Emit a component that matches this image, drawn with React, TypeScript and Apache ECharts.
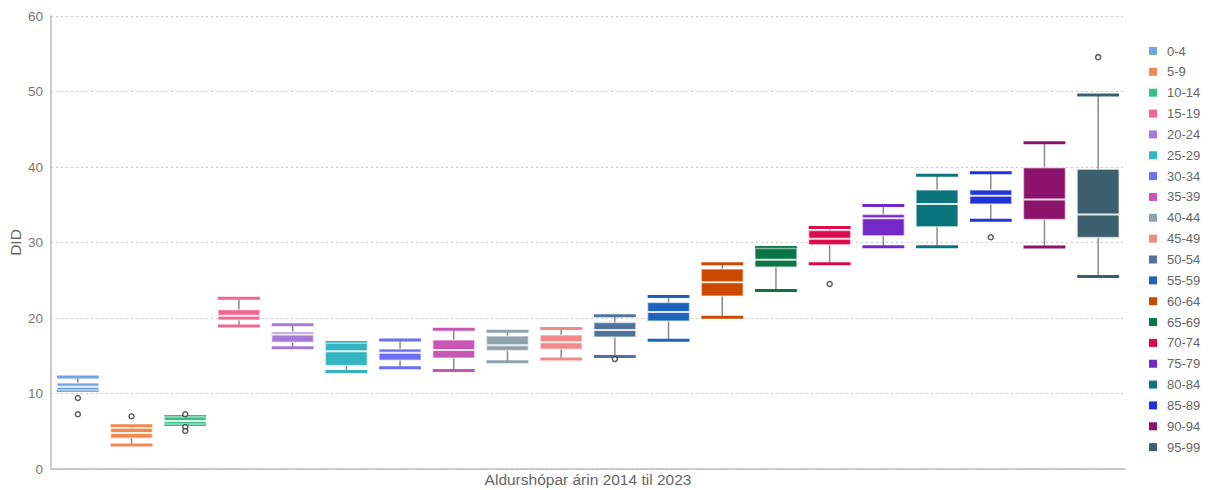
import React, { useEffect, useRef } from "react";
import * as echarts from "echarts";

const categories = ["0-4", "5-9", "10-14", "15-19", "20-24", "25-29", "30-34", "35-39", "40-44", "45-49", "50-54", "55-59", "60-64", "65-69", "70-74", "75-79", "80-84", "85-89", "90-94", "95-99"];
const colors = ["#6fa8e0", "#f08a55", "#3dbb88", "#ef6690", "#a67bd8", "#33b4c0", "#6c6ff2", "#c955b5", "#8ea2aa", "#f28a8a", "#50739e", "#1c63bb", "#cc4a00", "#0a7547", "#dc0a4c", "#7428c8", "#0b747c", "#2233d6", "#8c136b", "#3c5f6e"];
const mins = [10.4, 3.17, 5.9, 18.95, 16.06, 12.9, 13.4, 13.05, 14.2, 14.56, 14.9, 17.05, 20.1, 23.65, 27.2, 29.45, 29.45, 32.95, 29.4, 25.5];
const q1s = [10.45, 4.06, 5.95, 19.75, 16.8, 13.7, 14.4, 14.7, 15.7, 15.85, 17.5, 19.6, 22.9, 26.75, 29.7, 30.9, 32.1, 35.1, 33.05, 30.65];
const medians = [10.9, 4.77, 6.36, 20.3, 17.8, 15.6, 15.4, 15.76, 16.4, 16.8, 18.4, 20.8, 24.75, 27.7, 30.5, 33.2, 35.1, 36.2, 35.7, 33.7];
const q3s = [11.4, 5.39, 6.89, 21.1, 18.15, 16.65, 15.9, 17.1, 17.6, 17.75, 19.4, 22.05, 26.5, 29.2, 31.6, 33.7, 36.95, 36.95, 39.9, 39.7];
const maxs = [12.2, 5.74, 6.95, 22.6, 19.1, 16.75, 17.1, 18.5, 18.25, 18.6, 20.3, 22.85, 27.2, 29.35, 32.0, 34.9, 38.9, 39.25, 43.2, 49.55];
const outlierCats = [0, 0, 1, 2, 2, 2, 10, 14, 17, 19];
const outlierValues = [9.4, 7.25, 6.98, 7.25, 5.56, 5.03, 14.56, 24.5, 30.7, 54.55];
const yTicks = [0, 10, 20, 30, 40, 50, 60];

const FONT = "'Liberation Sans', Arial, sans-serif";

export default function App() {
  const ref = useRef<HTMLDivElement>(null);
  useEffect(() => {
    if (!ref.current) return;
    const chart = echarts.init(ref.current, null, { renderer: "svg" });
    const renderItem = (params: any, api: any) => {
      const x = api.value(0);
      const pMin = api.coord([x, api.value(1)]);
      const pQ1 = api.coord([x, api.value(2)]);
      const pMed = api.coord([x, api.value(3)]);
      const pQ3 = api.coord([x, api.value(4)]);
      const pMax = api.coord([x, api.value(5)]);
      const w = api.size([1, 0])[0] * 0.78;
      const cx = pMed[0];
      const color = api.visual("color");
      return {
        type: "group",
        children: [
          { type: "line", shape: { x1: cx, y1: pMax[1], x2: cx, y2: pMin[1] }, style: { stroke: "#8a8a8a", lineWidth: 1.5 } },
          { type: "line", shape: { x1: cx - w / 2, y1: pMax[1], x2: cx + w / 2, y2: pMax[1] }, style: { stroke: color, lineWidth: 3 } },
          { type: "line", shape: { x1: cx - w / 2, y1: pMin[1], x2: cx + w / 2, y2: pMin[1] }, style: { stroke: color, lineWidth: 3 } },
          { type: "rect", shape: { x: cx - w / 2, y: pQ3[1], width: w, height: pQ1[1] - pQ3[1] }, style: { fill: color, stroke: "rgba(255,255,255,0.5)", lineWidth: 1.5 } },
          { type: "line", shape: { x1: cx - w / 2, y1: pMed[1], x2: cx + w / 2, y2: pMed[1] }, style: { stroke: "#ffffff", lineWidth: 2, opacity: 0.85 } },
        ],
      };
    };
    const boxSeries = categories.map((name, i) => ({
      name,
      type: "custom",
      renderItem,
      itemStyle: { color: colors[i] },
      encode: { x: 0, y: [1, 2, 3, 4, 5] },
      data: [[i, mins[i], q1s[i], medians[i], q3s[i], maxs[i]]],
      z: 2,
    }));
    const option: any = {
      animation: false,
      textStyle: { fontFamily: FONT },
      grid: { left: 51, right: 86, top: 16, bottom: 21, containLabel: false, outerBoundsMode: "none" },
      legend: {
        orient: "vertical",
        left: 1144,
        top: 39,
        itemWidth: 8,
        itemHeight: 8,
        itemGap: 6.85,
        icon: "rect",
        data: categories,
        textStyle: { fontSize: 13, color: "#666", fontFamily: FONT, lineHeight: 14, padding: [0, 0, 0, 5] },
      },
      xAxis: {
        type: "category",
        data: categories,
        name: "Aldurshópar árin 2014 til 2023",
        nameLocation: "middle",
        nameGap: 2,
        nameMoveOverlap: false,
        nameTextStyle: { fontSize: 15.5, color: "#666", fontFamily: FONT },
        axisLine: { show: true, lineStyle: { color: "#bbb", width: 1.5 } },
        axisTick: { show: false },
        axisLabel: { show: false },
        splitLine: { show: false },
      },
      yAxis: {
        type: "value",
        min: yTicks[0],
        max: yTicks[yTicks.length - 1],
        interval: 10,
        name: "DID",
        nameLocation: "middle",
        nameGap: 28,
        nameMoveOverlap: false,
        nameTextStyle: { fontSize: 15.5, color: "#666", fontFamily: FONT },
        axisLine: { show: true, lineStyle: { color: "#bbb", width: 1.5 } },
        axisTick: { show: false },
        axisLabel: { fontSize: 13.5, color: "#777", margin: 8, fontFamily: FONT },
        splitLine: { show: true, lineStyle: { color: "#c8c8c8", type: [2, 3], width: 1 } },
      },
      series: [
        ...boxSeries,
        {
          name: "outliers",
          type: "scatter",
          symbol: "circle",
          symbolSize: 5,
          itemStyle: { color: "#ffffff", borderColor: "#333", borderWidth: 1.5 },
          data: outlierCats.map((c, i) => [c, outlierValues[i]]),
          z: 5,
        },
      ],
    };
    chart.setOption(option);
    return () => chart.dispose();
  }, []);
  return <div ref={ref} style={{ position: "absolute", left: 0, top: 0, width: 1211, height: 490 }} />;
}
